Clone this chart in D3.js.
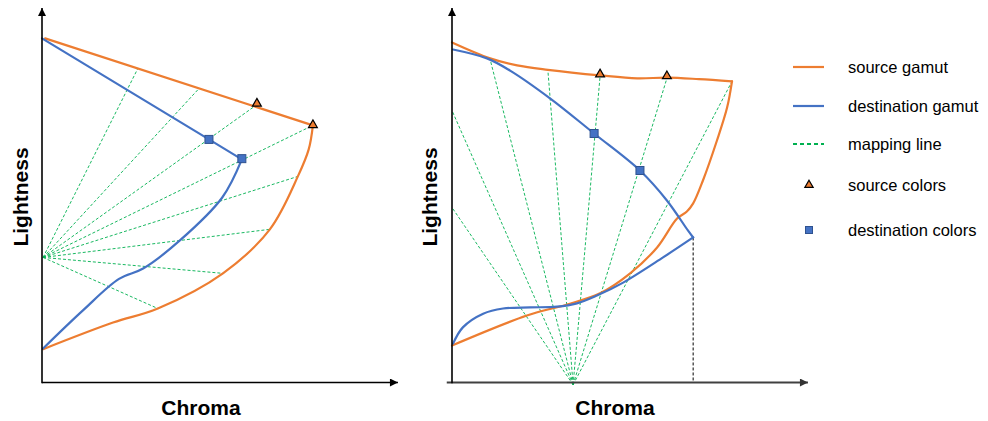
<!DOCTYPE html>
<html><head><meta charset="utf-8">
<script src="https://cdn.jsdelivr.net/npm/d3@7"></script>
<style>
html,body{margin:0;padding:0;background:#fff;}
svg{display:block;font-family:Arial,"Liberation Sans",sans-serif;}
</style></head>
<body>
<svg id="chart" width="988" height="421"></svg>
<script>
// ---------- DATA (chroma, lightness in 0-100 units) ----------
// Left panel
const leftSourceTop   = [[0.9,93.0],[77.4,69.5]];
const leftSourceCurve = [[77.4,69.5],[76.2,63.0],[73.1,55.7],[65.1,41.4],[51.7,29.5],[33.1,20.0],[20.3,16.2],[0.3,9.0]];
const leftDestTop     = [[0,93.0],[47.7,65.7],[57.1,60.3]];
const leftDestCurve   = [[57.1,60.3],[51.5,50.0],[39.4,38.4],[28.9,30.8],[22.0,28.0],[11.7,19.5],[0.3,9.2]];
const leftSourceColors = [[61.4,75.4],[77.4,69.6]];
const leftDestColors   = [[47.7,65.7],[57.1,60.5]];
const leftFocal = [0.3,33.8];
const leftMapEnds = [[27.4,84.9],[44.9,79.5],[61.4,75.1],[77.4,69.5],[73.1,55.7],[65.1,41.4],[51.7,29.5],[33.1,20.0]];

// Right panel
const rightSourceTop   = [[0,91.9],[10.9,87.6],[18.6,85.7],[27.4,84.5],[42.3,83.0],[52.9,82.2],[61.4,82.4],[70.5,82.0],[80.0,81.4]];
const rightSourceCurve = [[80.0,81.4],[78.6,74.3],[75.7,65.4],[71.7,54.6],[68.9,48.4],[67.1,46.2],[64.3,44.3],[58.6,36.5],[50.9,29.5],[42.3,24.1],[32.9,21.1],[21.4,18.1],[0,10.0]];
const rightDestTop     = [[0.3,90.0],[10.0,87.6],[16.6,84.3],[28.0,76.8],[40.6,67.3],[53.7,57.3],[61.4,49.2],[67.4,41.1],[68.9,39.2]];
const rightDestCurve   = [[68.9,39.2],[60.3,33.8],[48.9,27.0],[41.4,23.5],[35.7,21.4],[30.0,20.5],[22.3,20.3],[14.6,20.0],[8.9,18.6],[3.1,14.9],[0.3,10.5]];
const rightSourceColors = [[42.3,83.3],[61.4,82.8]];
const rightDestColors   = [[40.6,67.3],[53.7,57.3]];
const rightFocal = [34.6,-0.6];
const rightMapEnds = [[0,73.5],[0,47.3],[10.9,87.3],[27.4,84.3],[42.3,82.7],[61.4,82.2],[80.0,81.4]];
const rightCusp = [68.9,39.2];

const axisTitles = {x:"Chroma", y:"Lightness"};
const legendItems = ["source gamut","destination gamut","mapping line","source colors","destination colors"];

// ---------- STYLE ----------
const ORANGE="#ED7D31", BLUE="#4472C4", GREEN="#00B050";
const svg = d3.select("#chart");

const defs = svg.append("defs");
function arrow(id,color){
  defs.append("marker").attr("id",id).attr("viewBox","0 0 10 10")
    .attr("refX",10).attr("refY",5).attr("markerWidth",9).attr("markerHeight",8)
    .attr("markerUnits","userSpaceOnUse").attr("orient","auto")
    .append("path").attr("d","M0,0L10,5L0,10Z").attr("fill",color);
}
arrow("arrK","#000"); arrow("arrG","#333");

function panel(opt){
  const x = d3.scaleLinear().domain([0,100]).range([opt.x0, opt.x0+350]);
  const y = d3.scaleLinear().domain([0,100]).range([382.5, 12.5]);
  const g = svg.append("g");
  const line = d3.line().x(d=>x(d[0])).y(d=>y(d[1]));
  const curve = d3.line().x(d=>x(d[0])).y(d=>y(d[1])).curve(d3.curveCatmullRom.alpha(0.5));

  // mapping lines
  opt.mapEnds.forEach(e=>{
    g.append("path").attr("d",line([opt.focal,e])).attr("fill","none")
     .attr("stroke",GREEN).attr("stroke-width",1).attr("stroke-dasharray","3,2").attr("opacity",0.9);
  });
  if(opt.cusp){
    g.append("path").attr("d",line([opt.cusp,[opt.cusp[0],0]])).attr("fill","none")
     .attr("stroke","#000").attr("stroke-width",1).attr("stroke-dasharray","3,2");
  }
  // gamuts
  const drawG=(pts,c,smooth)=>g.append("path").attr("d",(smooth?curve:line)(pts)).attr("fill","none")
     .attr("stroke",c).attr("stroke-width",2.2).attr("stroke-linejoin","round").attr("stroke-linecap","round");
  drawG(opt.srcTop,ORANGE,opt.srcTopSmooth);
  drawG(opt.srcCurve,ORANGE,true);
  drawG(opt.dstTop,BLUE,opt.dstTopSmooth);
  drawG(opt.dstCurve,BLUE,true);

  // axes
  g.append("line").attr("x1",x(opt.xAxisStart)).attr("x2",x(101.7)).attr("y1",y(0)).attr("y2",y(0))
    .attr("stroke",opt.xAxisColor).attr("stroke-width",opt.xAxisWidth).attr("marker-end",opt.xArrow);
  g.append("line").attr("x1",x(0)).attr("x2",x(0)).attr("y1",y(0)+0.8).attr("y2",y(101.2))
    .attr("stroke","#000").attr("stroke-width",1.6).attr("marker-end","url(#arrK)");

  // markers
  const tri = d3.symbol().type(d3.symbolTriangle).size(34);
  opt.srcColors.forEach(p=>g.append("path").attr("d",tri())
     .attr("transform",`translate(${x(p[0])},${y(p[1])})`).attr("fill",ORANGE).attr("stroke","#000").attr("stroke-width",1.2));
  opt.dstColors.forEach(p=>g.append("rect").attr("x",x(p[0])-4).attr("y",y(p[1])-4).attr("width",8).attr("height",8)
     .attr("fill",BLUE).attr("stroke","#2F528F").attr("stroke-width",1));

  // titles
  g.append("text").attr("x",opt.xTitleX).attr("y",415).attr("text-anchor","middle")
    .attr("font-size",21).attr("font-weight","bold").attr("fill","#000").text(axisTitles.x);
  g.append("text").attr("transform",`translate(${opt.yTitleX},197) rotate(-90)`).attr("text-anchor","middle")
    .attr("font-size",21).attr("font-weight","bold").attr("fill","#000").text(axisTitles.y);
}

panel({x0:42, srcTop:leftSourceTop, srcCurve:leftSourceCurve, dstTop:leftDestTop, dstCurve:leftDestCurve,
  srcTopSmooth:false, dstTopSmooth:false,
  srcColors:leftSourceColors, dstColors:leftDestColors, focal:leftFocal, mapEnds:leftMapEnds,
  xAxisStart:0, xAxisColor:"#000", xAxisWidth:1.6, xArrow:"url(#arrK)", xTitleX:201, yTitleX:28});
panel({x0:452, srcTop:rightSourceTop, srcCurve:rightSourceCurve, dstTop:rightDestTop, dstCurve:rightDestCurve,
  srcTopSmooth:true, dstTopSmooth:true,
  srcColors:rightSourceColors, dstColors:rightDestColors, focal:rightFocal, mapEnds:rightMapEnds, cusp:rightCusp,
  xAxisStart:-1.5, xAxisColor:"#404040", xAxisWidth:2.2, xArrow:"url(#arrG)", xTitleX:615, yTitleX:437});

// legend
const lg = svg.append("g");
const ly = [67,106,144,185,230];
lg.append("line").attr("x1",793).attr("x2",824).attr("y1",ly[0]).attr("y2",ly[0]).attr("stroke",ORANGE).attr("stroke-width",2.2);
lg.append("line").attr("x1",793).attr("x2",824).attr("y1",ly[1]).attr("y2",ly[1]).attr("stroke",BLUE).attr("stroke-width",2.2);
lg.append("line").attr("x1",793).attr("x2",824).attr("y1",ly[2]).attr("y2",ly[2]).attr("stroke",GREEN).attr("stroke-width",2).attr("stroke-dasharray","4,3");
lg.append("path").attr("d",d3.symbol().type(d3.symbolTriangle).size(30)()).attr("transform",`translate(809,${ly[3]})`)
  .attr("fill",ORANGE).attr("stroke","#000").attr("stroke-width",1.2);
lg.append("rect").attr("x",805.5).attr("y",ly[4]-3.5).attr("width",7).attr("height",7).attr("fill",BLUE).attr("stroke","#2F528F").attr("stroke-width",1);
legendItems.forEach((t,i)=>lg.append("text").attr("x",848).attr("y",ly[i]+6).attr("font-size",16.5).attr("fill","#000").text(t));
</script>
</body></html>
